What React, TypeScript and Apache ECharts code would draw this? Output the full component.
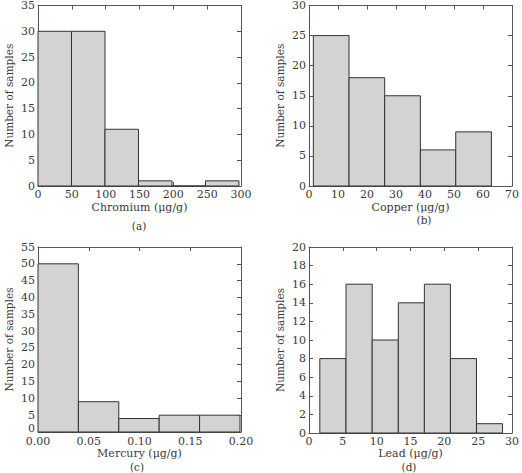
import React, { useEffect, useRef } from "react";
import * as echarts from "echarts";

const chromiumEdges = [0, 49.5, 99, 148.5, 198, 247.5, 297];
const chromiumCounts = [30, 30, 11, 1, 0, 1];
const copperEdges = [1.5, 13.8, 26.1, 38.4, 50.6, 62.9];
const copperCounts = [25, 18, 15, 6, 9];
const mercuryEdges = [0, 0.0398, 0.0796, 0.1194, 0.1592, 0.199];
const mercuryCounts = [50, 9, 4, 5, 5];
const leadEdges = [1.6, 5.47, 9.34, 13.2, 17.05, 20.9, 24.75, 28.6];
const leadCounts = [8, 16, 10, 14, 16, 8, 1];

const panelNames = ["Chromium (μg/g)", "Copper (μg/g)", "Mercury (μg/g)", "Lead (μg/g)"];
const panelCaptions = ["(a)", "(b)", "(c)", "(d)"];
const yLabel = "Number of samples";

const FONT = "DejaVu Serif";
const TXT = "#3a3a3a";
const LINE = "#555";

const toBins = (edges: number[], counts: number[]) =>
  counts.map((c, i) => [edges[i], edges[i + 1], c]);

export default function App() {
  const ref = useRef<HTMLDivElement>(null);
  useEffect(() => {
    if (!ref.current) return;
    const chart = echarts.init(ref.current, null, { renderer: "svg" });

    const panels = [
      { grid: { left: 38, top: 5, width: 203, height: 181 }, x: [0, 300, 50], y: [0, 35, 5], dec: 0, lift: false, gap: 16, bins: toBins(chromiumEdges, chromiumCounts) },
      { grid: { left: 309, top: 5, width: 204, height: 181 }, x: [0, 70, 10], y: [0, 30, 5], dec: 0, lift: false, gap: 16, bins: toBins(copperEdges, copperCounts) },
      { grid: { left: 38, top: 247, width: 203, height: 185 }, x: [0, 0.2, 0.05], y: [0, 55, 5], dec: 2, lift: true, gap: 14, bins: toBins(mercuryEdges, mercuryCounts) },
      { grid: { left: 309, top: 247, width: 207, height: 186 }, x: [0, 30, 5], y: [0, 20, 2], dec: 0, lift: false, gap: 13, bins: toBins(leadEdges, leadCounts) },
    ];

    const grids: any[] = [];
    const xAxes: any[] = [];
    const yAxes: any[] = [];
    const series: any[] = [];

    panels.forEach((p, i) => {
      grids.push({ ...p.grid, containLabel: false });
      const tick = { show: true, inside: true, length: 4, lineStyle: { color: LINE } };
      const axLine = { show: true, onZero: false, lineStyle: { color: LINE, width: 1 } };
      xAxes.push({
        type: "value", gridIndex: i, position: "bottom",
        min: p.x[0], max: p.x[1], interval: p.x[2],
        axisLine: axLine, axisTick: tick, splitLine: { show: false },
        axisLabel: {
          color: TXT, fontFamily: FONT, fontSize: 11, margin: p.lift ? 4 : 3,
          formatter: (v: number) => v.toFixed(p.dec),
        },
        name: panelNames[i], nameLocation: "middle", nameGap: p.gap,
        nameTextStyle: { color: TXT, fontFamily: FONT, fontSize: 11 },
      });
      xAxes.push({
        type: "value", gridIndex: i, position: "top",
        min: p.x[0], max: p.x[1], interval: p.x[2],
        axisLine: axLine, axisTick: tick, splitLine: { show: false },
        axisLabel: { show: false },
      });
      yAxes.push({
        type: "value", gridIndex: i, position: "left",
        min: p.y[0], max: p.y[1], interval: p.y[2],
        axisLine: axLine, axisTick: tick, splitLine: { show: false },
        axisLabel: {
          color: TXT, fontFamily: FONT, fontSize: 11, margin: 3,
          formatter: (v: number) => (p.lift && v === 0 ? "{b|0}" : String(v)),
          rich: { b: { color: TXT, fontFamily: FONT, fontSize: 11, padding: [0, 0, 7, 0] } },
        },
        name: yLabel, nameLocation: "middle", nameGap: 24,
        nameTextStyle: { color: TXT, fontFamily: FONT, fontSize: 10.5 },
      });
      yAxes.push({
        type: "value", gridIndex: i, position: "right",
        min: p.y[0], max: p.y[1], interval: p.y[2],
        axisLine: axLine, axisTick: tick, splitLine: { show: false },
        axisLabel: { show: false },
      });
      series.push({
        type: "custom",
        xAxisIndex: i * 2,
        yAxisIndex: i * 2,
        data: p.bins,
        encode: { x: [0, 1], y: 2 },
        clip: false,
        renderItem: (_params: any, api: any) => {
          const s = api.coord([api.value(0), 0]);
          const e = api.coord([api.value(1), api.value(2)]);
          return {
            type: "rect",
            shape: { x: s[0], y: e[1], width: e[0] - s[0], height: s[1] - e[1] },
            style: { fill: "#d3d3d3", stroke: "#333", lineWidth: 1 },
          };
        },
      });
    });

    const capPos = [
      [139, 226],
      [424, 220],
      [137, 467],
      [409, 467],
    ];

    chart.setOption({
      animation: false,
      backgroundColor: "#fff",
      grid: grids,
      xAxis: xAxes,
      yAxis: yAxes,
      series,
      graphic: capPos.map((c, i) => ({
        type: "text",
        x: c[0],
        y: c[1],
        style: {
          text: panelCaptions[i],
          fill: TXT,
          font: `10.5px "${FONT}"`,
          textAlign: "center",
          textVerticalAlign: "middle",
        },
      })),
    });
    return () => chart.dispose();
  }, []);
  return <div ref={ref} style={{ width: 522, height: 473, position: "absolute", left: 0, top: 0 }} />;
}
